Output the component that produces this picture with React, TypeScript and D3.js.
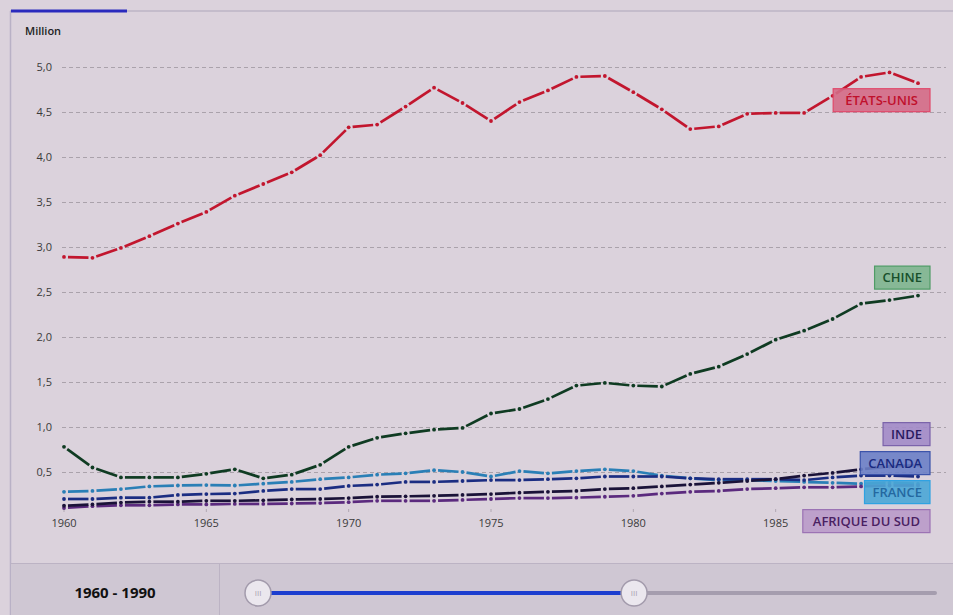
import React, { useEffect, useRef } from 'react';
import * as d3 from 'd3';

const years = [
    1960, 1961, 1962, 1963, 1964, 1965, 1966, 1967, 1968, 1969,
    1970, 1971, 1972, 1973, 1974, 1975, 1976, 1977, 1978, 1979,
    1980, 1981, 1982, 1983, 1984, 1985, 1986, 1987, 1988, 1989, 1990,
];

const etatsUnis = [2.89, 2.88, 2.99, 3.12, 3.26, 3.39, 3.57, 3.70, 3.83, 4.02, 4.33, 4.36, 4.56, 4.77, 4.60, 4.40, 4.61, 4.74, 4.89, 4.90, 4.72, 4.53, 4.31, 4.34, 4.48, 4.49, 4.49, 4.68, 4.89, 4.94, 4.82];
const chine = [0.78, 0.55, 0.44, 0.44, 0.44, 0.48, 0.53, 0.43, 0.47, 0.58, 0.78, 0.88, 0.93, 0.97, 0.99, 1.15, 1.20, 1.31, 1.46, 1.49, 1.46, 1.45, 1.59, 1.67, 1.81, 1.97, 2.07, 2.20, 2.37, 2.41, 2.46];
const france = [0.28, 0.29, 0.31, 0.34, 0.35, 0.355, 0.35, 0.37, 0.39, 0.42, 0.44, 0.47, 0.485, 0.52, 0.50, 0.45, 0.51, 0.485, 0.51, 0.53, 0.51, 0.46, 0.43, 0.41, 0.41, 0.40, 0.39, 0.38, 0.37, 0.38, 0.37];
const canada = [0.20, 0.20, 0.215, 0.215, 0.245, 0.255, 0.26, 0.29, 0.31, 0.31, 0.345, 0.36, 0.39, 0.39, 0.40, 0.41, 0.41, 0.42, 0.43, 0.45, 0.45, 0.45, 0.43, 0.42, 0.42, 0.42, 0.41, 0.44, 0.46, 0.46, 0.45];
const inde = [0.125, 0.14, 0.16, 0.17, 0.17, 0.18, 0.18, 0.185, 0.195, 0.20, 0.21, 0.225, 0.23, 0.235, 0.245, 0.255, 0.27, 0.28, 0.29, 0.31, 0.32, 0.34, 0.36, 0.38, 0.40, 0.42, 0.46, 0.49, 0.53, 0.56, 0.58];
const afriqueDuSud = [0.10, 0.12, 0.13, 0.13, 0.14, 0.14, 0.145, 0.145, 0.15, 0.155, 0.165, 0.18, 0.18, 0.18, 0.19, 0.20, 0.21, 0.21, 0.215, 0.225, 0.235, 0.26, 0.28, 0.29, 0.31, 0.32, 0.33, 0.33, 0.34, 0.35, 0.35];

const yTicks = [0.5, 1.0, 1.5, 2.0, 2.5, 3.0, 3.5, 4.0, 4.5, 5.0];
const xTicks = [1960, 1965, 1970, 1975, 1980, 1985];
const rangeLabel = '1960 - 1990';
const sliderDomain = [1960, 2014];
const sliderValues = [1960, 1990];

interface Serie {
    name: string;
    values: number[];
    line: string;
    fill: string;
    stroke: string;
    text: string;
    nudge: number;
    pad: number;
}

const series: Serie[] = [
    { name: 'ÉTATS-UNIS', values: etatsUnis, line: '#c2162e', fill: '#d46a86', stroke: '#e0486a', text: '#c0102c', nudge: 17, pad: 12 },
    { name: 'CHINE', values: chine, line: '#0f3b22', fill: '#7db58e', stroke: '#4f9c66', text: '#17502c', nudge: -18, pad: 8 },
    { name: 'FRANCE', values: france, line: '#2a7fb6', fill: '#4aa6d6', stroke: '#2ea2e2', text: '#2468a0', nudge: 0, pad: 8 },
    { name: 'CANADA', values: canada, line: '#1b2d82', fill: '#6b7fc6', stroke: '#3a52aa', text: '#1a2a80', nudge: 0, pad: 8 },
    { name: 'AFRIQUE DU SUD', values: afriqueDuSud, line: '#5b2a7e', fill: '#b99ac9', stroke: '#9b72b4', text: '#4a2062', nudge: 0, pad: 10 },
    { name: 'INDE', values: inde, line: '#1a1238', fill: '#a28bc8', stroke: '#7a62aa', text: '#2a1a60', nudge: 0, pad: 8 },
];

const W = 953;
const H = 615;
const font = '"Open Sans", "Segoe UI", sans-serif';

const App: React.FC = () => {
    const svgRef = useRef<SVGSVGElement>(null);

    useEffect(() => {
        if (!svgRef.current) return;
        const svg = d3.select(svgRef.current);
        svg.selectAll('*').remove();

        // page + panel
        svg.append('rect').attr('width', W).attr('height', H).attr('fill', '#dbd2dc');
        svg.append('line').attr('x1', 10).attr('x2', W).attr('y1', 11).attr('y2', 11)
            .attr('stroke', '#c4bccb').attr('stroke-width', 2);
        svg.append('line').attr('x1', 10.5).attr('x2', 10.5).attr('y1', 11).attr('y2', H)
            .attr('stroke', '#b9b1c6').attr('stroke-width', 1.5);
        svg.append('rect').attr('x', 11).attr('y', 9.5).attr('width', 116).attr('height', 3)
            .attr('fill', '#2a2abd');

        const x = d3.scaleLinear().domain([1960, 1990]).range([64, 918]);
        const y = d3.scaleLinear().domain([0, 5]).range([517, 67]);
        const fmt = (v: number) => d3.format('.1f')(v).replace('.', ',');

        svg.append('text').attr('x', 25).attr('y', 35).text('Million')
            .style('font-family', font).style('font-size', '11px').style('font-weight', 600)
            .attr('fill', '#222');

        const grid = svg.append('g');
        grid.selectAll('line').data(yTicks).enter().append('line')
            .attr('x1', 62).attr('x2', 946)
            .attr('y1', d => Math.round(y(d)) + 0.5).attr('y2', d => Math.round(y(d)) + 0.5)
            .attr('stroke', '#aaa2ab').attr('stroke-dasharray', '4,3');
        grid.selectAll('text').data(yTicks).enter().append('text')
            .attr('x', 52).attr('y', d => y(d) + 4).attr('text-anchor', 'end')
            .style('font-family', font).style('font-size', '11px').attr('fill', '#3a3a3a')
            .text(d => fmt(d));

        const xAxis = svg.append('g');
        xAxis.selectAll('line').data(xTicks).enter().append('line')
            .attr('x1', d => x(d)).attr('x2', d => x(d)).attr('y1', 509).attr('y2', 512)
            .attr('stroke', '#b0a8b2');
        xAxis.selectAll('text').data(xTicks).enter().append('text')
            .attr('x', d => x(d)).attr('y', 527).attr('text-anchor', 'middle')
            .style('font-family', font).style('font-size', '11px').attr('fill', '#3a3a3a')
            .text(d => String(d));

        // lines: one dash per segment, dot on each point
        const gap = 4;
        series.forEach(s => {
            const pts = s.values.map((v, i) => [x(years[i]), y(v)] as [number, number]);
            const g = svg.append('g');
            const segs = d3.pairs(pts);
            const k = ([a, b]: [number, number][]) => gap / Math.hypot(b[0] - a[0], b[1] - a[1]);
            g.selectAll('line').data(segs).enter().append('line')
                .attr('x1', d => d[0][0] + (d[1][0] - d[0][0]) * k(d))
                .attr('y1', d => d[0][1] + (d[1][1] - d[0][1]) * k(d))
                .attr('x2', d => d[1][0] - (d[1][0] - d[0][0]) * k(d))
                .attr('y2', d => d[1][1] - (d[1][1] - d[0][1]) * k(d))
                .attr('stroke', s.line).attr('stroke-width', 2.7);
            g.selectAll('circle').data(pts).enter().append('circle')
                .attr('cx', d => d[0]).attr('cy', d => d[1]).attr('r', 1.9)
                .attr('fill', s.line);
        });

        // end labels, spread apart where they collide
        const boxH = 23;
        const step = 29;
        const labels = series.map(s => ({
            s,
            want: y(s.values[s.values.length - 1]) + s.nudge,
            pos: 0,
        })).sort((a, b) => a.want - b.want);
        const clusters = labels.map(l => [l]);
        const place = (c: typeof labels) => {
            const mean = d3.mean(c, l => l.want) as number;
            c.forEach((l, i) => { l.pos = mean + (i - (c.length - 1) / 2) * step; });
        };
        clusters.forEach(place);
        let merged = true;
        while (merged) {
            merged = false;
            for (let i = 0; i < clusters.length - 1; i++) {
                const a = clusters[i];
                const b = clusters[i + 1];
                if (b[0].pos - a[a.length - 1].pos < step) {
                    const c = a.concat(b);
                    place(c);
                    clusters.splice(i, 2, c);
                    merged = true;
                    break;
                }
            }
        }

        const right = 930;
        labels.forEach(l => {
            const g = svg.append('g');
            const t = g.append('text')
                .style('font-family', font).style('font-size', '13px').style('font-weight', 600)
                .attr('fill', l.s.text).attr('text-anchor', 'middle')
                .text(l.s.name);
            const tw = (t.node() as SVGTextElement).getComputedTextLength();
            const bw = tw + 2 * l.s.pad;
            g.insert('rect', 'text')
                .attr('x', right - bw).attr('y', l.pos - boxH / 2)
                .attr('width', bw).attr('height', boxH)
                .attr('fill', l.s.fill).attr('fill-opacity', 0.9)
                .attr('stroke', l.s.stroke).attr('stroke-width', 1.2);
            t.attr('x', right - bw / 2).attr('y', l.pos + 4.5);
        });

        // range bar
        svg.append('rect').attr('x', 11).attr('y', 563).attr('width', W - 11).attr('height', H - 563)
            .attr('fill', '#cfc7d3');
        svg.append('line').attr('x1', 11).attr('x2', W).attr('y1', 563.5).attr('y2', 563.5)
            .attr('stroke', '#bcb3c4');
        svg.append('line').attr('x1', 219.5).attr('x2', 219.5).attr('y1', 563).attr('y2', H)
            .attr('stroke', '#bcb3c4');
        svg.append('text').attr('x', 115).attr('y', 598).attr('text-anchor', 'middle')
            .style('font-family', font).style('font-size', '15px').style('font-weight', 700)
            .attr('fill', '#111').text(rangeLabel);

        const sx = d3.scaleLinear().domain(sliderDomain).range([258, 935]);
        svg.append('line').attr('x1', sx(sliderDomain[0])).attr('x2', sx(sliderDomain[1]))
            .attr('y1', 593).attr('y2', 593)
            .attr('stroke', '#a59dae').attr('stroke-width', 4).attr('stroke-linecap', 'round');
        svg.append('line').attr('x1', sx(sliderValues[0])).attr('x2', sx(sliderValues[1]))
            .attr('y1', 593).attr('y2', 593)
            .attr('stroke', '#1c3ecf').attr('stroke-width', 4);
        const handles = svg.selectAll('g.handle').data(sliderValues).enter().append('g')
            .attr('class', 'handle')
            .attr('transform', d => `translate(${sx(d)},593)`);
        handles.append('circle').attr('r', 13).attr('fill', '#ebe7ee')
            .attr('stroke', '#a39bac').attr('stroke-width', 1.5);
        handles.append('text').attr('y', 3).attr('text-anchor', 'middle')
            .style('font-family', font).style('font-size', '8px').attr('fill', '#a8a0b0')
            .text('III');
    }, []);

    return (
        <svg ref={svgRef} width={W} height={H}
            style={{ position: 'absolute', left: 0, top: 0, display: 'block' }} />
    );
};

export default App;
